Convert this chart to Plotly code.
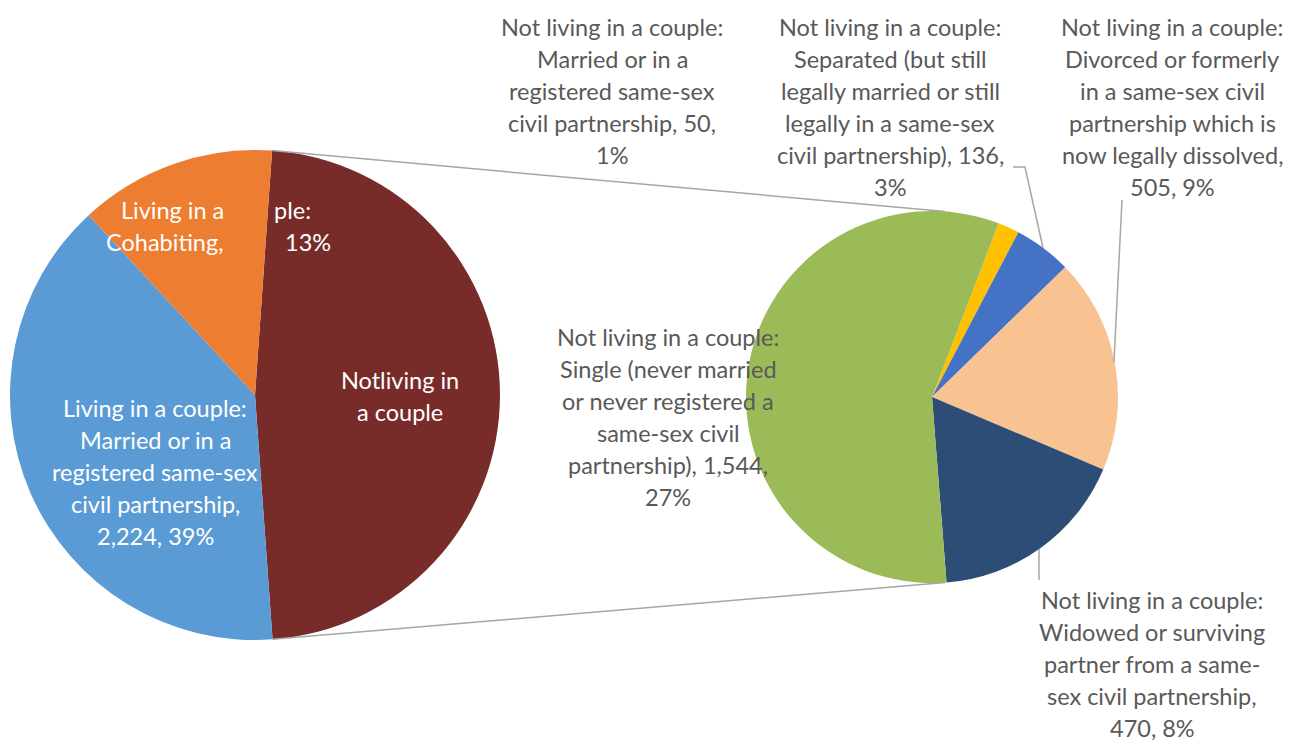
import math
import plotly.graph_objects as go

# --- data -------------------------------------------------------------
main_labels = [
    "Not living in a couple",
    "Living in a couple: Married or in a registered same-sex civil partnership",
    "Living in a couple: Cohabiting",
]
main_values = [2705, 2224, 736]
main_pct = ["48%", "39%", "13%"]

detail_labels = [
    "Not living in a couple: Married or in a registered same-sex civil partnership",
    "Not living in a couple: Separated (but still legally married or still legally in a same-sex civil partnership)",
    "Not living in a couple: Divorced or formerly in a same-sex civil partnership which is now legally dissolved",
    "Not living in a couple: Widowed or surviving partner from a same-sex civil partnership",
    "Not living in a couple: Single (never married or never registered a same-sex civil partnership)",
]
detail_values = [50, 136, 505, 470, 1544]
detail_pct = ["1%", "3%", "9%", "8%", "27%"]

main_colors = ["#772C2A", "#5B9BD5", "#ED7D31"]
detail_colors = ["#FFC000", "#4472C4", "#F8C391", "#2C4D75", "#9BBB59"]

# page body has an 8px margin, so the figure is shifted by that much
OX, OY = 8, 8
W, H = 1306 - OX, 742 - OY
TXT = "#595959"
LINE = "#A6A6A6"
FONT = "Lato"
FS = 23.5
LH = 32  # line spacing in px


def px(x):
    return (x - OX) / W


def py(y):
    return 1 - (y - OY) / H


# pie geometry (page pixels)
L_CX, L_CY, L_R = 255, 395, 245
R_CX, R_CY, R_R = 932, 397, 186
L_ROT = 4
R_ROT = 21

fig = go.Figure()

fig.add_trace(go.Pie(
    labels=main_labels,
    values=main_values,
    sort=False,
    direction="clockwise",
    rotation=L_ROT,
    marker=dict(colors=main_colors, line=dict(width=0)),
    textinfo="none",
    hoverinfo="label+value",
    domain=dict(x=[px(L_CX - L_R), px(L_CX + L_R)], y=[py(L_CY + L_R), py(L_CY - L_R)]),
    showlegend=False,
))

fig.add_trace(go.Pie(
    labels=detail_labels,
    values=detail_values,
    sort=False,
    direction="clockwise",
    rotation=R_ROT,
    marker=dict(colors=detail_colors, line=dict(width=0)),
    textinfo="none",
    hoverinfo="label+value",
    domain=dict(x=[px(R_CX - R_R), px(R_CX + R_R)], y=[py(R_CY + R_R), py(R_CY - R_R)]),
    showlegend=False,
))

# connector lines between the "Not living in a couple" slice and the second pie
span = 360 * main_values[0] / sum(main_values)
for ang in (L_ROT, L_ROT + span):
    a = math.radians(ang)
    x0 = L_CX + L_R * math.sin(a)
    y0 = L_CY - L_R * math.cos(a)
    x1 = R_CX + R_R * math.sin(a)
    y1 = R_CY - R_R * math.cos(a)
    fig.add_shape(type="line", xref="paper", yref="paper",
                  x0=px(x0), y0=py(y0), x1=px(x1), y1=py(y1),
                  line=dict(color=LINE, width=1.5))

# leader lines for the detail labels
leaders = [
    [(1013, 167), (1025, 167), (1043, 248)],
    [(1122, 200), (1114, 362)],
    [(1039, 549), (1039, 580)],
]
for pts in leaders:
    path = "M " + " L ".join(f"{px(x)},{py(y)}" for x, y in pts)
    fig.add_shape(type="path", xref="paper", yref="paper", path=path,
                  line=dict(color=LINE, width=1.5))


def add_lines(lines, cx, y0, color, anchor="center"):
    for i, t in enumerate(lines):
        fig.add_annotation(
            x=px(cx), y=py(y0 + i * LH), xref="paper", yref="paper",
            text=t, showarrow=False, xanchor=anchor, yanchor="middle",
            font=dict(family=FONT, size=FS, color=color),
        )


def wrap(label, value, pct, breaks):
    full = f"{label}, {value:,}, {pct}"
    out, start = [], 0
    for b in breaks:
        idx = full.index(b, start + 1)
        out.append(full[start:idx].strip())
        start = idx
    out.append(full[start:].strip())
    return out


# detail labels (grey, outside)
detail_pos = [
    (612, 27, ["Married", "registered", "civil", "1%"]),
    (890, 27, ["Separated", "legally married", "legally in", "civil", "3%"]),
    (1172, 27, ["Divorced", "in a same", "partnership which", "now legally", "505"]),
    (1152, 600, ["Widowed", "partner from", "-sex civil", "470"]),
    (668, 337, ["Single", "or never", "same-sex civil", "partnership)", "27%"]),
]
for (cx, y0, br), lab, val, pct in zip(detail_pos, detail_labels, detail_values, detail_pct):
    lines = wrap(lab, val, pct, br)
    # Excel breaks "same-sex" after the hyphen here
    lines = [ln[1:] if ln.startswith("-sex") else ln for ln in lines]
    lines = [ln + "-" if ln.endswith("same") else ln for ln in lines]
    add_lines(lines, cx, y0, TXT)

# main pie labels (white, inside)
add_lines(wrap(main_labels[1], main_values[1], main_pct[1],
               ["Married", "registered", "civil", "2,224"]), 155, 408, "white")
add_lines(["Notliving in", "a couple"], 400, 380, "white")
# cohabiting label is partly hidden in the original
add_lines(["Living in a", "Cohabiting,"], 226, 210, "white", anchor="right")
add_lines(["ple:"], 272, 210, "white", anchor="left")
add_lines([main_pct[2]], 283, 242, "white", anchor="left")

fig.update_layout(
    width=W, height=H,
    margin=dict(l=0, r=0, t=0, b=0),
    paper_bgcolor="white",
    plot_bgcolor="white",
    showlegend=False,
)

fig.write_html("out.html")
